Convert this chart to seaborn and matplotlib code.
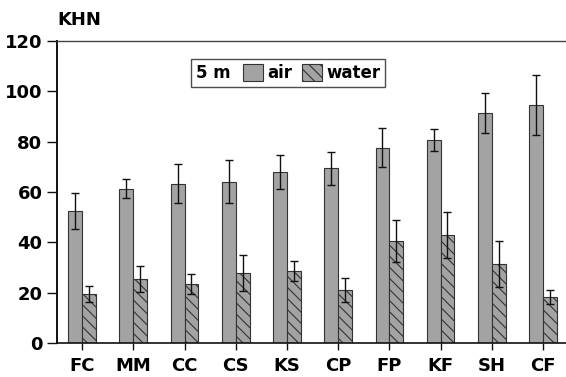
import matplotlib
matplotlib.use("Agg")
import matplotlib.pyplot as plt
import seaborn as sns
import pandas as pd
import numpy as np
from matplotlib.patches import Patch
from matplotlib.offsetbox import HPacker

categories = ["FC", "MM", "CC", "CS", "KS", "CP", "FP", "KF", "SH", "CF"]
air = [52.5, 61.3, 63.3, 64.2, 67.9, 69.5, 77.6, 80.6, 91.3, 94.6]
air_err = [7.1, 3.8, 7.8, 8.6, 6.8, 6.6, 7.8, 4.3, 8.0, 12.0]
water = [19.5, 25.4, 23.4, 27.8, 28.6, 21.1, 40.6, 43.0, 31.4, 18.3]
water_err = [3.0, 5.2, 4.0, 7.2, 4.0, 4.7, 8.3, 9.0, 9.2, 2.8]
y_ticks = [0, 20, 40, 60, 80, 100, 120]

sns.set_style("ticks")
plt.rcParams["font.family"] = ["DejaVu Sans"]
plt.rcParams["font.weight"] = "bold"
plt.rcParams["hatch.linewidth"] = 0.8
plt.rcParams["hatch.color"] = "#333333"
plt.rcParams["text.color"] = "black"
plt.rcParams["xtick.labelcolor"] = "black"
plt.rcParams["ytick.labelcolor"] = "black"

df = pd.DataFrame({
    "cat": categories * 2,
    "val": air + water,
    "err": air_err + water_err,
    "medium": ["air"] * len(categories) + ["water"] * len(categories),
})

fig = plt.figure(figsize=(5.66, 3.77), dpi=100)
ax = fig.add_axes([0.1007, 0.090, 0.8993, 0.801])

gray = "#a3a3a3"
sns.barplot(data=df, x="cat", y="val", hue="medium", order=categories,
            hue_order=["air", "water"], palette=[gray, gray], width=0.54,
            edgecolor="#333333", linewidth=0.8, errorbar=None, legend=False, ax=ax)

errs = {"air": air_err, "water": water_err}
for cont, name in zip(ax.containers, ["air", "water"]):
    xs, hs = [], []
    for p in cont.patches:
        if name == "water":
            p.set_hatch("\\\\\\")
        xs.append(p.get_x() + p.get_width() / 2)
        hs.append(p.get_height())
    ax.errorbar(xs, hs, yerr=errs[name], fmt="none", ecolor="#111111",
                elinewidth=1.0, capsize=3, capthick=1.0, zorder=5)

ax.set_ylim(0, 120)
ax.set_xlim(-0.49, 9.45)
ax.set_yticks(y_ticks)
ax.set_yticklabels([str(t) for t in y_ticks], fontsize=13, fontweight="bold", color="black")
ax.set_xticks(range(len(categories)))
ax.set_xticklabels(categories, fontsize=13, fontweight="bold", color="black")
ax.tick_params(axis="both", direction="out", width=1.0, color="#111111")
ax.tick_params(axis="y", length=7, pad=3.5)
ax.tick_params(axis="x", length=5, pad=5)
ax.set_xlabel("")
ax.set_ylabel("")
ax.spines["right"].set_visible(False)
ax.spines["left"].set_linewidth(1.4)
ax.spines["bottom"].set_linewidth(1.2)
ax.spines["top"].set_linewidth(1.0)
ax.spines["top"].set_color("#444444")
for s in ["left", "bottom"]:
    ax.spines[s].set_color("#111111")

ax.text(0.0, 1.04, "KHN", transform=ax.transAxes, fontsize=13,
        fontweight="bold", ha="left", va="bottom", color="black")

handles = [Patch(facecolor=gray, edgecolor="#333333", linewidth=0.8, label="air"),
           Patch(facecolor=gray, edgecolor="#333333", linewidth=0.8, hatch="\\\\\\", label="water")]
leg = ax.legend(handles=handles, ncol=2, title="5 m", loc="upper left",
                bbox_to_anchor=(0.263, 0.94), borderaxespad=0, frameon=True,
                fancybox=False, edgecolor="#222222", fontsize=12,
                title_fontproperties={"weight": "bold", "size": 12},
                handlelength=1.2, handleheight=1.2, handletextpad=0.25,
                columnspacing=0.6, borderpad=0.3)
leg.get_frame().set_linewidth(1.0)
for t in leg.get_texts():
    t.set_fontweight("bold")
    t.set_color("black")
leg.get_title().set_color("black")
box = leg._legend_box
box.__class__ = HPacker
box.align = "center"
box.sep = 9

fig.savefig("out.png", dpi=100)
